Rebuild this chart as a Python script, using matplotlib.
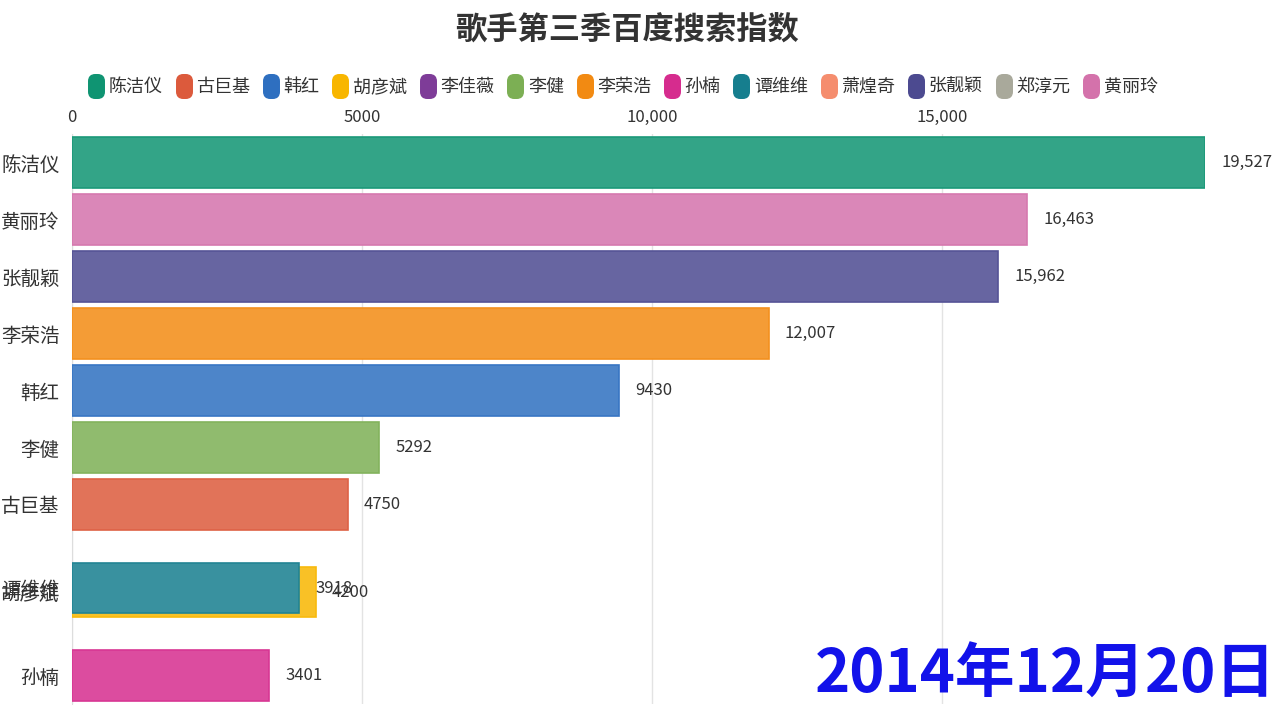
import matplotlib
matplotlib.use('Agg')
from matplotlib import pyplot as plt
from matplotlib import colors as mcolors
from matplotlib.lines import Line2D
from matplotlib.patches import FancyBboxPatch
import numpy as np

plt.rcParams['font.family'] = ['Noto Sans CJK SC', 'DejaVu Sans']

# legend order / palette
legend_names = ['陈洁仪', '古巨基', '韩红', '胡彦斌', '李佳薇', '李健', '李荣浩',
                '孙楠', '谭维维', '萧煌奇', '张靓颖', '郑淳元', '黄丽玲']
legend_colors = ['#0f9472', '#dc5a3c', '#2e6fc0', '#f8b600', '#7e3c98', '#7caf54',
                 '#f28a12', '#d62c8e', '#167e8e', '#f58d6e', '#4c4a90', '#a9a99b', '#d472ab']

# frame of 2014-12-20
singers = ['陈洁仪', '黄丽玲', '张靓颖', '李荣浩', '韩红', '李健', '古巨基', '胡彦斌', '谭维维', '孙楠']
values = [19527, 16463, 15962, 12007, 9430, 5292, 4750, 4200, 3918, 3401]
ranks = [0, 1, 2, 3, 4, 5, 6, 7.54, 7.47, 9]   # mid-transition positions
date_label = '2014年12月20日'

xticks = [0, 5000, 10000, 15000]


def fmt(v):
    return f'{v:,}' if v >= 10000 else str(v)


def lighten(c, k=0.85):
    rgb = np.array(mcolors.to_rgb(c))
    return tuple(rgb * k + (1 - k))


color_of = dict(zip(legend_names, legend_colors))

fig = plt.figure(figsize=(12.8, 7.2), dpi=100)
ax = fig.add_axes([72 / 1280, 1 - 704 / 720, 1133 / 1280, 570 / 720])

for name, v, r in zip(singers, values, ranks):
    c = color_of[name]
    ax.barh(r, v, height=0.88, color=lighten(c), edgecolor=lighten(c, 0.95),
            linewidth=1.2, zorder=3)
    ax.text(v + 280, r, fmt(v), va='center', ha='left', fontsize=12, color='#333333', zorder=4)

ax.set_xlim(0, max(values))
ax.set_ylim(9.5, -0.5)
ax.set_yticks(ranks, labels=singers)
ax.tick_params(axis='y', length=0, labelsize=14, labelcolor='#333333', pad=9)
ax.xaxis.tick_top()
ax.set_xticks(xticks, labels=[fmt(t) for t in xticks])
ax.tick_params(axis='x', length=0, labelsize=12, labelcolor='#333333', pad=6)
ax.grid(axis='x', color='#e3e3e3', linewidth=1, zorder=0)
for s in ['top', 'right', 'bottom']:
    ax.spines[s].set_visible(False)
ax.spines['left'].set_color('#dddddd')

fig.text(0.49, 1 - 30 / 720, '歌手第三季百度搜索指数', ha='center', va='center',
         fontsize=22.5, fontweight='bold', color='#333333')

pill = FancyBboxPatch((-0.33, -0.5), 0.66, 1.0,
                      boxstyle='round,pad=0,rounding_size=0.28').get_path()
handles = [Line2D([], [], marker=pill, markersize=17, linestyle='none',
                  markerfacecolor=c, markeredgecolor=c) for c in legend_colors]
fig.legend(handles, legend_names, loc='center', bbox_to_anchor=(0.487, 1 - 87 / 720),
           ncol=13, frameon=False, fontsize=13, handlelength=0.8, handletextpad=0.3,
           columnspacing=0.75, labelcolor='#333333')

fig.text(1 - 4 / 1280, 1 - 676 / 720, date_label, ha='right', va='center',
         fontsize=43, fontweight='bold', color='#1212ea')

fig.savefig('out.png', dpi=100)
